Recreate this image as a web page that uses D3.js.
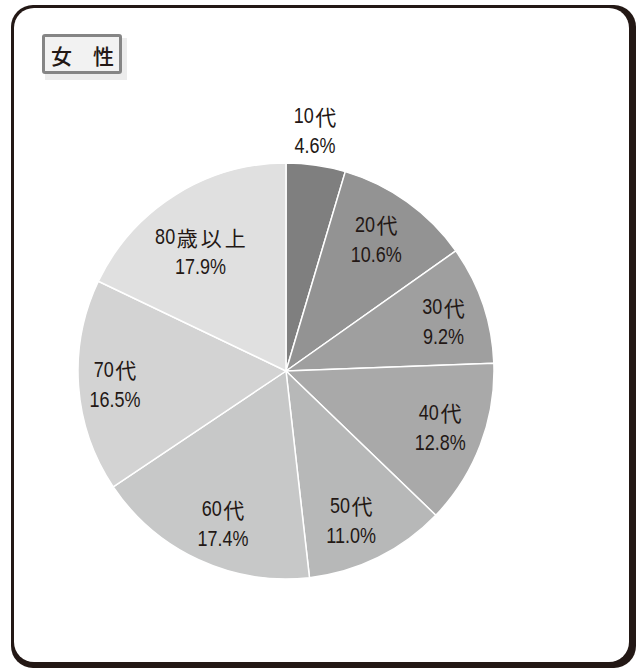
<!DOCTYPE html>
<html>
<head>
<meta charset="utf-8">
<script src="https://cdn.jsdelivr.net/npm/d3@7"></script>
<style>
  html, body { margin: 0; padding: 0; background: #fff; }
  svg { display: block; }
</style>
</head>
<body>
<svg id="chart" width="638" height="668"></svg>
<script>
// ---- data ----
const title = "女\u3000性";
const categories = ["10代", "20代", "30代", "40代", "50代", "60代", "70代", "80歳以上"];
const values = [4.6, 10.6, 9.2, 12.8, 11.0, 17.4, 16.5, 17.9];
const colors = ["#7f7f7f", "#939393", "#9f9f9f", "#a9a9a9", "#b7b8b8", "#c7c8c8", "#d3d3d3", "#e0e0e0"];

// ---- layout ----
const W = 638, H = 668;
const cx = 286, cy = 371, R = 208;
const labelRadius = [242, 160, 165, 164, 163, 165, 171.5, 147];
const labelAngleShift = [-1.4, -1.3, 1.3, -0.9, 2.7, -2.4, -0.2, -3.4]; // degrees from slice middle
const ink = "#231815";
const fontNum = "'Liberation Sans', Arial, sans-serif";
const fontCJK = "'Noto Sans CJK JP', sans-serif";
const numScale = 0.8, numSize = 22.5, cjkSize = 21, cjkSpacing = 3, gap = 1.5;

const svg = d3.select("#chart");

// frame
svg.append("rect").attr("x", 11).attr("y", 5).attr("width", 625).attr("height", 663)
  .attr("rx", 22).attr("ry", 22).attr("fill", ink);
svg.append("rect").attr("x", 14).attr("y", 8).attr("width", 615).attr("height", 654)
  .attr("rx", 20).attr("ry", 20).attr("fill", "#fff");

// title box
svg.append("rect").attr("x", 45).attr("y", 38).attr("width", 82).attr("height", 42).attr("fill", "#ececec");
svg.append("rect").attr("x", 43.5).attr("y", 35.5).attr("width", 77).attr("height", 37)
  .attr("fill", "#f2f2f2").attr("stroke", "#858585").attr("stroke-width", 3).attr("rx", 1.5);
svg.append("text").attr("x", 51).attr("y", 55).attr("dominant-baseline", "central")
  .attr("font-family", fontCJK).attr("font-weight", 500)
  .attr("font-size", 21).attr("fill", ink).text(title);

// pie
const pie = d3.pie().sort(null).value(d => d.v);
const data = categories.map((c, i) => ({ c, v: values[i], col: colors[i], lr: labelRadius[i], la: labelAngleShift[i] }));
const arcs = pie(data);
const arc = d3.arc().innerRadius(0).outerRadius(R);

const g = svg.append("g").attr("transform", `translate(${cx},${cy})`);
g.selectAll("path.slice").data(arcs).enter().append("path")
  .attr("class", "slice")
  .attr("d", arc)
  .attr("fill", d => d.data.col)
  .attr("stroke", "#fff").attr("stroke-width", 1.5).attr("stroke-linejoin", "round");

const lab = g.selectAll("g.lab").data(arcs).enter().append("g").attr("class", "lab")
  .attr("transform", d => {
    const mid = (d.startAngle + d.endAngle) / 2 + d.data.la * Math.PI / 180;
    const x = d.data.lr * Math.sin(mid), y = -d.data.lr * Math.cos(mid);
    return `translate(${x},${y})`;
  });

lab.each(function(d) {
  const sel = d3.select(this);
  const m = d.data.c.match(/^(\d+)(.*)$/);
  const num = m[1], rest = m[2];
  const ls = rest.length > 1 ? cjkSpacing : 0;
  // line 1: condensed digits + CJK
  const ng = sel.append("g");
  const nt = ng.append("text").attr("dominant-baseline", "central")
    .attr("font-family", fontNum).attr("font-size", numSize).attr("fill", ink).text(num);
  const ct = sel.append("text").attr("dominant-baseline", "central")
    .attr("font-family", fontCJK).attr("font-size", cjkSize).attr("fill", ink)
    .attr("letter-spacing", ls).text(rest);
  const w1 = nt.node().getComputedTextLength() * numScale;
  const w2 = ct.node().getComputedTextLength() - ls;
  const left = -(w1 + gap + w2) / 2;
  ng.attr("transform", `translate(${left},-15) scale(${numScale},1)`);
  ct.attr("x", left + w1 + gap).attr("y", -15);
  // line 2: percentage
  sel.append("g").attr("transform", `translate(0,15) scale(${numScale},1)`)
    .append("text").attr("text-anchor", "middle").attr("dominant-baseline", "central")
    .attr("font-family", fontNum).attr("font-size", numSize).attr("fill", ink)
    .text(d3.format(".1f")(d.data.v) + "%");
});
</script>
</body>
</html>
